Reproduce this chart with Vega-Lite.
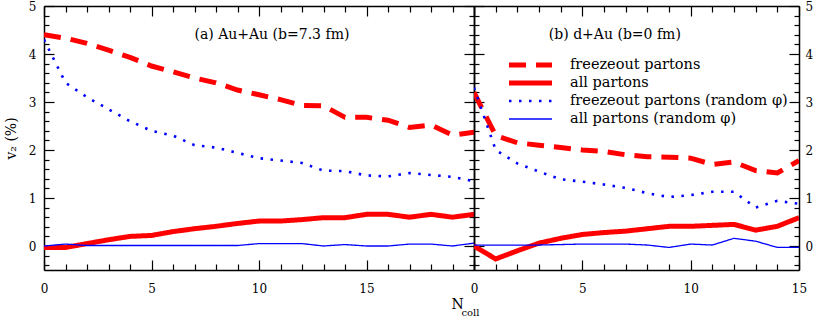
{
  "$schema": "https://vega.github.io/schema/vega-lite/v6.json",
  "padding": {"left": 4, "top": 0, "right": 0, "bottom": 0},
  "background": "white",
  "spacing": 0,
  "bounds": "flush",
  "config": {
    "view": {"stroke": null},
    "axis": {"domainColor": "black", "domainWidth": 1.5, "tickColor": "black", "tickWidth": 1.2, "labelFont": "DejaVu Serif", "labelFontSize": 12, "labelColor": "black", "titleFont": "DejaVu Serif", "titleFontSize": 14, "titleFontWeight": "normal", "titleColor": "black", "grid": false, "labelOverlap": false, "labelFlush": false, "labelBound": false}
  },
  "resolve": {"scale": {"color": "independent", "strokeDash": "independent", "strokeWidth": "independent"}, "legend": {"color": "independent", "strokeDash": "independent", "strokeWidth": "independent"}},
  "hconcat": [
    {
      "width": 430,
      "height": 264,
      "resolve": {"axis": {"x": "independent", "y": "independent"}},
      "layer": [
        {
          "data": {"values": [
            {"x":0,"v":4.4,"s":"freezeout partons"},{"x":1,"v":4.33,"s":"freezeout partons"},{"x":2,"v":4.22,"s":"freezeout partons"},{"x":3,"v":4.08,"s":"freezeout partons"},{"x":4,"v":3.93,"s":"freezeout partons"},{"x":5,"v":3.75,"s":"freezeout partons"},{"x":6,"v":3.63,"s":"freezeout partons"},{"x":7,"v":3.5,"s":"freezeout partons"},{"x":8,"v":3.4,"s":"freezeout partons"},{"x":9,"v":3.25,"s":"freezeout partons"},{"x":10,"v":3.15,"s":"freezeout partons"},{"x":11,"v":3.05,"s":"freezeout partons"},{"x":12,"v":2.93,"s":"freezeout partons"},{"x":13,"v":2.92,"s":"freezeout partons"},{"x":14,"v":2.68,"s":"freezeout partons"},{"x":15,"v":2.68,"s":"freezeout partons"},{"x":16,"v":2.62,"s":"freezeout partons"},{"x":17,"v":2.47,"s":"freezeout partons"},{"x":18,"v":2.52,"s":"freezeout partons"},{"x":19,"v":2.31,"s":"freezeout partons"},{"x":20,"v":2.37,"s":"freezeout partons"},
            {"x":0,"v":-0.03,"s":"all partons"},{"x":1,"v":-0.03,"s":"all partons"},{"x":2,"v":0.05,"s":"all partons"},{"x":3,"v":0.13,"s":"all partons"},{"x":4,"v":0.2,"s":"all partons"},{"x":5,"v":0.22,"s":"all partons"},{"x":6,"v":0.3,"s":"all partons"},{"x":7,"v":0.36,"s":"all partons"},{"x":8,"v":0.41,"s":"all partons"},{"x":9,"v":0.47,"s":"all partons"},{"x":10,"v":0.52,"s":"all partons"},{"x":11,"v":0.52,"s":"all partons"},{"x":12,"v":0.55,"s":"all partons"},{"x":13,"v":0.59,"s":"all partons"},{"x":14,"v":0.59,"s":"all partons"},{"x":15,"v":0.66,"s":"all partons"},{"x":16,"v":0.66,"s":"all partons"},{"x":17,"v":0.6,"s":"all partons"},{"x":18,"v":0.66,"s":"all partons"},{"x":19,"v":0.6,"s":"all partons"},{"x":20,"v":0.66,"s":"all partons"},
            {"x":0,"v":4.3,"s":"freezeout partons (random φ)"},{"x":1,"v":3.4,"s":"freezeout partons (random φ)"},{"x":2,"v":3.1,"s":"freezeout partons (random φ)"},{"x":3,"v":2.85,"s":"freezeout partons (random φ)"},{"x":4,"v":2.6,"s":"freezeout partons (random φ)"},{"x":5,"v":2.4,"s":"freezeout partons (random φ)"},{"x":6,"v":2.3,"s":"freezeout partons (random φ)"},{"x":7,"v":2.1,"s":"freezeout partons (random φ)"},{"x":8,"v":2.05,"s":"freezeout partons (random φ)"},{"x":9,"v":1.94,"s":"freezeout partons (random φ)"},{"x":10,"v":1.83,"s":"freezeout partons (random φ)"},{"x":11,"v":1.78,"s":"freezeout partons (random φ)"},{"x":12,"v":1.73,"s":"freezeout partons (random φ)"},{"x":13,"v":1.57,"s":"freezeout partons (random φ)"},{"x":14,"v":1.56,"s":"freezeout partons (random φ)"},{"x":15,"v":1.47,"s":"freezeout partons (random φ)"},{"x":16,"v":1.45,"s":"freezeout partons (random φ)"},{"x":17,"v":1.52,"s":"freezeout partons (random φ)"},{"x":18,"v":1.48,"s":"freezeout partons (random φ)"},{"x":19,"v":1.44,"s":"freezeout partons (random φ)"},{"x":20,"v":1.35,"s":"freezeout partons (random φ)"},
            {"x":0,"v":0.0,"s":"all partons (random φ)"},{"x":1,"v":0.04,"s":"all partons (random φ)"},{"x":2,"v":0.01,"s":"all partons (random φ)"},{"x":3,"v":0.01,"s":"all partons (random φ)"},{"x":4,"v":0.01,"s":"all partons (random φ)"},{"x":5,"v":0.01,"s":"all partons (random φ)"},{"x":6,"v":0.01,"s":"all partons (random φ)"},{"x":7,"v":0.01,"s":"all partons (random φ)"},{"x":8,"v":0.01,"s":"all partons (random φ)"},{"x":9,"v":0.01,"s":"all partons (random φ)"},{"x":10,"v":0.05,"s":"all partons (random φ)"},{"x":11,"v":0.05,"s":"all partons (random φ)"},{"x":12,"v":0.05,"s":"all partons (random φ)"},{"x":13,"v":0.0,"s":"all partons (random φ)"},{"x":14,"v":0.03,"s":"all partons (random φ)"},{"x":15,"v":0.0,"s":"all partons (random φ)"},{"x":16,"v":0.0,"s":"all partons (random φ)"},{"x":17,"v":0.04,"s":"all partons (random φ)"},{"x":18,"v":0.04,"s":"all partons (random φ)"},{"x":19,"v":0.0,"s":"all partons (random φ)"},{"x":20,"v":0.06,"s":"all partons (random φ)"}
          ]},
          "mark": {"type": "line", "clip": true},
          "encoding": {
            "x": {"field": "x", "type": "quantitative", "scale": {"domain": [0, 20], "nice": false, "zero": false},
              "axis": {"orient": "bottom", "values": [0,1,2,3,4,5,6,7,8,9,10,11,12,13,14,15,16,17,18,19,20],
                "tickSize": {"condition": {"test": "datum.value % 5 === 0", "value": -10}, "value": -6},
                "labelPadding": 23, "labelExpr": "datum.value % 5 === 0 && datum.value < 20 ? datum.label : ''",
                "title": "N", "titleFontSize": 14, "titleX": 407, "titleY": 38, "titleAlign": "left", "titleBaseline": "alphabetic", "titleAnchor": "start"}},
            "y": {"field": "v", "type": "quantitative", "scale": {"domain": [-0.5, 5], "nice": false, "zero": false},
              "axis": {"orient": "left", "values": [-0.4,-0.2,0,0.2,0.4,0.6,0.8,1,1.2,1.4,1.6,1.8,2,2.2,2.4,2.6,2.8,3,3.2,3.4,3.6,3.8,4,4.2,4.4,4.6,4.8,5],
                "tickSize": {"condition": {"test": "abs(datum.value - round(datum.value)) < 0.001", "value": -10}, "value": -5},
                "labelPadding": 18, "labelExpr": "abs(datum.value - round(datum.value)) < 0.001 ? format(round(datum.value), 'd') : ''",
                "title": "v₂ (%)", "titleFontSize": 14, "titlePadding": 10}},
            "color": {"field": "s", "type": "nominal", "legend": null,
              "scale": {"domain": ["freezeout partons", "all partons", "freezeout partons (random φ)", "all partons (random φ)"], "range": ["#ff0000", "#ff0000", "#0000ff", "#0000ff"]}},
            "strokeDash": {"field": "s", "type": "nominal", "legend": null,
              "scale": {"domain": ["freezeout partons", "all partons", "freezeout partons (random φ)", "all partons (random φ)"], "range": [[17, 10], [1, 0], [2.5, 7.5], [1, 0]]}},
            "strokeWidth": {"field": "s", "type": "nominal", "legend": null,
              "scale": {"type": "ordinal", "domain": ["freezeout partons", "all partons", "freezeout partons (random φ)", "all partons (random φ)"], "range": [5, 5, 2.6, 1.3]}}
          }
        },
        {
          "data": {"values": [{"t": "(a) Au+Au (b=7.3 fm)"}]},
          "mark": {"type": "text", "font": "DejaVu Serif", "fontSize": 14, "align": "center", "baseline": "middle", "color": "black"},
          "encoding": {
            "x": {"datum": 10.6, "type": "quantitative", "scale": {"domain": [0, 20], "nice": false, "zero": false},
              "axis": {"orient": "top", "values": [0,1,2,3,4,5,6,7,8,9,10,11,12,13,14,15,16,17,18,19,20],
                "tickSize": {"condition": {"test": "datum.value % 5 === 0", "value": -10}, "value": -6},
                "labels": false, "title": null}},
            "y": {"datum": 4.4, "type": "quantitative", "scale": {"domain": [-0.5, 5], "nice": false, "zero": false},
              "axis": {"orient": "right", "values": [-0.4,-0.2,0,0.2,0.4,0.6,0.8,1,1.2,1.4,1.6,1.8,2,2.2,2.4,2.6,2.8,3,3.2,3.4,3.6,3.8,4,4.2,4.4,4.6,4.8,5],
                "tickSize": {"condition": {"test": "abs(datum.value - round(datum.value)) < 0.001", "value": -10}, "value": -5},
                "labels": false, "title": null}},
            "text": {"field": "t"}
          }
        }
      ]
    },
    {
      "width": 325,
      "height": 264,
      "resolve": {"axis": {"x": "independent", "y": "independent"}},
      "layer": [
        {
          "data": {"values": [
            {"x":0,"v":3.2,"s":"freezeout partons"},{"x":1,"v":2.3,"s":"freezeout partons"},{"x":2,"v":2.15,"s":"freezeout partons"},{"x":3,"v":2.1,"s":"freezeout partons"},{"x":4,"v":2.05,"s":"freezeout partons"},{"x":5,"v":2.0,"s":"freezeout partons"},{"x":6,"v":1.97,"s":"freezeout partons"},{"x":7,"v":1.9,"s":"freezeout partons"},{"x":8,"v":1.86,"s":"freezeout partons"},{"x":9,"v":1.85,"s":"freezeout partons"},{"x":10,"v":1.83,"s":"freezeout partons"},{"x":11,"v":1.7,"s":"freezeout partons"},{"x":12,"v":1.75,"s":"freezeout partons"},{"x":13,"v":1.57,"s":"freezeout partons"},{"x":14,"v":1.52,"s":"freezeout partons"},{"x":15,"v":1.78,"s":"freezeout partons"},
            {"x":0,"v":0.0,"s":"all partons"},{"x":1,"v":-0.27,"s":"all partons"},{"x":2,"v":-0.1,"s":"all partons"},{"x":3,"v":0.06,"s":"all partons"},{"x":4,"v":0.16,"s":"all partons"},{"x":5,"v":0.24,"s":"all partons"},{"x":6,"v":0.28,"s":"all partons"},{"x":7,"v":0.31,"s":"all partons"},{"x":8,"v":0.36,"s":"all partons"},{"x":9,"v":0.41,"s":"all partons"},{"x":10,"v":0.41,"s":"all partons"},{"x":11,"v":0.43,"s":"all partons"},{"x":12,"v":0.45,"s":"all partons"},{"x":13,"v":0.33,"s":"all partons"},{"x":14,"v":0.41,"s":"all partons"},{"x":15,"v":0.59,"s":"all partons"},
            {"x":0,"v":3.3,"s":"freezeout partons (random φ)"},{"x":1,"v":2.0,"s":"freezeout partons (random φ)"},{"x":2,"v":1.72,"s":"freezeout partons (random φ)"},{"x":3,"v":1.55,"s":"freezeout partons (random φ)"},{"x":4,"v":1.39,"s":"freezeout partons (random φ)"},{"x":5,"v":1.34,"s":"freezeout partons (random φ)"},{"x":6,"v":1.28,"s":"freezeout partons (random φ)"},{"x":7,"v":1.21,"s":"freezeout partons (random φ)"},{"x":8,"v":1.1,"s":"freezeout partons (random φ)"},{"x":9,"v":1.02,"s":"freezeout partons (random φ)"},{"x":10,"v":1.06,"s":"freezeout partons (random φ)"},{"x":11,"v":1.13,"s":"freezeout partons (random φ)"},{"x":12,"v":1.13,"s":"freezeout partons (random φ)"},{"x":13,"v":0.8,"s":"freezeout partons (random φ)"},{"x":14,"v":0.94,"s":"freezeout partons (random φ)"},{"x":15,"v":0.88,"s":"freezeout partons (random φ)"},
            {"x":0,"v":0.02,"s":"all partons (random φ)"},{"x":1,"v":0.02,"s":"all partons (random φ)"},{"x":2,"v":0.02,"s":"all partons (random φ)"},{"x":3,"v":0.02,"s":"all partons (random φ)"},{"x":4,"v":0.03,"s":"all partons (random φ)"},{"x":5,"v":0.04,"s":"all partons (random φ)"},{"x":6,"v":0.04,"s":"all partons (random φ)"},{"x":7,"v":0.04,"s":"all partons (random φ)"},{"x":8,"v":0.02,"s":"all partons (random φ)"},{"x":9,"v":-0.03,"s":"all partons (random φ)"},{"x":10,"v":0.04,"s":"all partons (random φ)"},{"x":11,"v":0.02,"s":"all partons (random φ)"},{"x":12,"v":0.16,"s":"all partons (random φ)"},{"x":13,"v":0.1,"s":"all partons (random φ)"},{"x":14,"v":-0.03,"s":"all partons (random φ)"},{"x":15,"v":-0.03,"s":"all partons (random φ)"}
          ]},
          "mark": {"type": "line", "clip": true},
          "encoding": {
            "x": {"field": "x", "type": "quantitative", "scale": {"domain": [0, 15], "nice": false, "zero": false},
              "axis": {"orient": "bottom", "values": [0,1,2,3,4,5,6,7,8,9,10,11,12,13,14,15],
                "tickSize": {"condition": {"test": "datum.value % 5 === 0", "value": -10}, "value": -6},
                "labelPadding": 23, "labelExpr": "datum.value % 5 === 0 ? datum.label : ''",
                "title": "coll", "titleFontSize": 10, "titleX": -13, "titleY": 45, "titleAlign": "left", "titleBaseline": "alphabetic", "titleAnchor": "start"}},
            "y": {"field": "v", "type": "quantitative", "scale": {"domain": [-0.5, 5], "nice": false, "zero": false},
              "axis": {"orient": "left", "values": [-0.4,-0.2,0,0.2,0.4,0.6,0.8,1,1.2,1.4,1.6,1.8,2,2.2,2.4,2.6,2.8,3,3.2,3.4,3.6,3.8,4,4.2,4.4,4.6,4.8,5],
                "tickSize": {"condition": {"test": "abs(datum.value - round(datum.value)) < 0.001", "value": -10}, "value": -5},
                "labels": false, "title": null}},
            "color": {"field": "s", "type": "nominal",
              "scale": {"domain": ["freezeout partons", "all partons", "freezeout partons (random φ)", "all partons (random φ)"], "range": ["#ff0000", "#ff0000", "#0000ff", "#0000ff"]},
              "legend": {"orient": "none", "legendX": 32, "legendY": 50, "title": null, "symbolType": "stroke", "symbolSize": 1850, "clipHeight": 18, "labelFont": "DejaVu Serif", "labelFontSize": 14.5, "labelColor": "black", "labelOffset": 15, "padding": 0, "rowPadding": 0, "labelLimit": 400}},
            "strokeDash": {"field": "s", "type": "nominal",
              "scale": {"domain": ["freezeout partons", "all partons", "freezeout partons (random φ)", "all partons (random φ)"], "range": [[17, 10], [1, 0], [2.5, 7.5], [1, 0]]}},
            "strokeWidth": {"field": "s", "type": "nominal",
              "scale": {"type": "ordinal", "domain": ["freezeout partons", "all partons", "freezeout partons (random φ)", "all partons (random φ)"], "range": [5, 5, 2.6, 1.3]}}
          }
        },
        {
          "data": {"values": [{"t": "(b) d+Au (b=0 fm)"}]},
          "mark": {"type": "text", "font": "DejaVu Serif", "fontSize": 14, "align": "center", "baseline": "middle", "color": "black"},
          "encoding": {
            "x": {"datum": 6.5, "type": "quantitative", "scale": {"domain": [0, 15], "nice": false, "zero": false},
              "axis": {"orient": "top", "values": [0,1,2,3,4,5,6,7,8,9,10,11,12,13,14,15],
                "tickSize": {"condition": {"test": "datum.value % 5 === 0", "value": -10}, "value": -6},
                "labels": false, "title": null}},
            "y": {"datum": 4.4, "type": "quantitative", "scale": {"domain": [-0.5, 5], "nice": false, "zero": false},
              "axis": {"orient": "right", "values": [-0.4,-0.2,0,0.2,0.4,0.6,0.8,1,1.2,1.4,1.6,1.8,2,2.2,2.4,2.6,2.8,3,3.2,3.4,3.6,3.8,4,4.2,4.4,4.6,4.8,5],
                "tickSize": {"condition": {"test": "abs(datum.value - round(datum.value)) < 0.001", "value": -10}, "value": -5},
                "labelPadding": 16, "labelAlign": "left", "labelExpr": "abs(datum.value - round(datum.value)) < 0.001 ? format(round(datum.value), 'd') : ''",
                "title": null}},
            "text": {"field": "t"}
          }
        }
      ]
    }
  ]
}
